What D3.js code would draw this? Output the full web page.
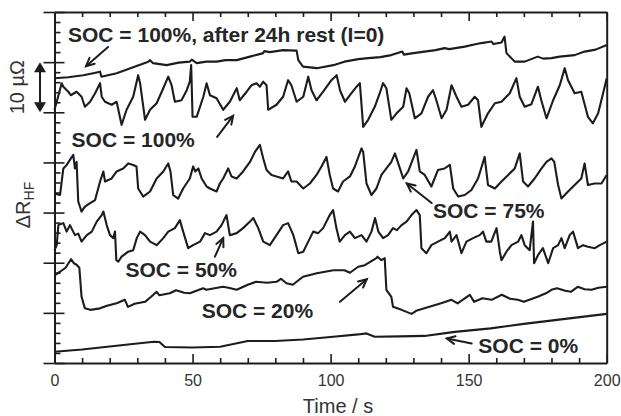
<!DOCTYPE html>
<html><head><meta charset="utf-8">
<script src="https://cdn.jsdelivr.net/npm/d3@7"></script>
<style>
html,body{margin:0;padding:0;background:#fff;}
svg{display:block;font-family:"Liberation Sans",Arial,Helvetica,sans-serif;}
</style></head>
<body>
<svg id="chart" width="621" height="416"></svg>
<script>
// ---- data (time in s, ΔR_HF offset in µΩ) ----
const xTicksMajor = [0, 50, 100, 150, 200];
const xTickLabels = ["0", "50", "100", "150", "200"];
const yTicksMajor = [0, 10, 20, 30, 40, 50, 60, 70];

const soc100rest = [[0,56.8],[5,57.0],[10.4,57.4],[14,57.8],[16.5,58.1],[17,57.1],[22.5,57.8],[28,58.9],[34,60.1],[34.6,60.4],[35.7,59.8],[40.6,59.4],[45,59.9],[49,60.1],[49.7,60.5],[51.5,59.8],[55,60.1],[58.7,60.1],[62,60.4],[66,60.4],[70.8,61.1],[75.6,61.8],[76,62.2],[78,62.0],[82.8,62.4],[87.7,62.3],[88.3,60.4],[90,59.1],[95,58.8],[101,59.4],[105,60.1],[110,60.6],[113.6,60.8],[118,61.0],[122,61.4],[126,62.1],[126.5,61.5],[130,61.8],[134,62.1],[138,62.4],[141.3,62.8],[143,62.6],[148.6,63.1],[152,63.5],[154.6,63.8],[158.3,64.1],[159,63.6],[161.9,63.9],[163,65.1],[163.7,61.8],[166.7,60.1],[170.3,60.1],[175,61.1],[177,60.7],[180,60.8],[183,61.1],[188.4,61.4],[192,62.1],[196,62.5],[200,63.4]];

const soc100 = [[0,50.5],[1,52.5],[2.6,55.8],[3.2,55.1],[5,54.1],[5.9,53.4],[8,54.1],[9.8,53.1],[11,51.1],[12.9,52.1],[14.7,53.8],[16.5,55.8],[17.1,53.1],[18.3,52.1],[20.7,51.5],[22.5,52.1],[24.3,47.5],[26.1,50.5],[28.5,53.1],[30.3,57.4],[31,55.8],[32.8,48.5],[34.6,50.5],[37,51.8],[39.4,54.8],[41.2,57.1],[42.4,55.4],[43.6,52.1],[46,52.4],[47.9,54.4],[49,56.1],[49.5,59.4],[50,49.1],[51.5,49.1],[53.9,53.1],[55.1,55.8],[56.3,53.4],[58.7,52.8],[61.1,50.5],[63.5,52.1],[66,54.8],[67.1,52.4],[69.6,54.1],[71.4,55.4],[73.2,55.8],[74.4,55.1],[75.6,56.1],[76.8,55.4],[77.4,50.5],[80.4,51.5],[82.8,53.1],[84.6,56.4],[85.8,55.4],[87.7,52.1],[90.1,53.1],[91.9,57.1],[93.1,54.4],[94.9,52.4],[97.3,54.1],[100.3,56.4],[102.2,57.4],[103.4,54.4],[105.2,52.1],[107,53.4],[109.4,55.1],[110.6,55.8],[111.8,47.1],[113.6,48.5],[116,51.1],[117.8,53.8],[119,55.8],[120.2,54.8],[122,48.5],[123.9,49.8],[126.3,51.1],[127.5,54.8],[128.5,53.8],[130.5,48.8],[132.9,49.8],[135.3,53.1],[137.1,54.4],[138.3,52.4],[140.2,48.8],[142,50.5],[143.8,55.4],[145.6,53.1],[147.4,51.1],[149.8,51.5],[152.2,53.1],[153.4,52.4],[154.6,47.1],[157,49.8],[159.5,51.8],[161.9,52.1],[164.9,53.8],[167.3,56.8],[168.5,53.1],[170.3,51.1],[172.7,51.6],[175.1,55.1],[176.3,52.4],[178.2,48.8],[180.6,52.4],[183,55.4],[184.8,58.8],[186,56.4],[188.4,53.8],[190.8,54.1],[193.2,49.1],[195,47.8],[196.9,49.8],[198.7,53.8],[200,56.8]];

const soc75 = [[0,33.8],[2,33.5],[3.2,38.8],[4.4,39.5],[5.6,40.5],[6.8,41.5],[7.4,38.8],[8,40.1],[8.6,32.2],[9.8,30.2],[11,31.2],[12.9,31.9],[14.7,32.5],[16.5,36.2],[17.7,38.2],[18.3,36.2],[20.7,36.8],[22.5,38.2],[24.9,38.8],[26.7,39.8],[28.5,39.5],[29.7,39.2],[30.3,34.8],[32.1,33.2],[34.6,34.2],[37,36.8],[39.4,38.2],[41.2,39.8],[42,38.2],[43,33.5],[44.8,32.8],[46.6,34.8],[49,36.8],[50.2,39.2],[51,38.2],[52.1,38.8],[53.3,36.8],[55.1,35.2],[56.3,34.8],[58.7,34.2],[59.9,35.8],[61.1,36.8],[62.9,38.8],[64.1,37.2],[66,36.8],[68.3,38.2],[70.8,40.1],[72.6,42.1],[74.4,43.5],[75.6,40.8],[76.8,38.5],[78.6,37.5],[80.4,37.2],[82.8,36.8],[84.6,38.2],[85.8,36.2],[87.7,36.2],[90.1,34.8],[92.5,35.8],[94.9,37.5],[96.7,39.2],[98.5,41.1],[99.7,37.5],[100.9,34.8],[102.7,34.2],[104.5,36.2],[107,37.2],[108.8,39.2],[111.2,42.8],[111.8,42.1],[113,35.8],[114.8,33.5],[116.6,34.8],[118.4,37.5],[120.2,38.8],[122,40.1],[123.3,41.8],[123.9,40.8],[125.1,38.8],[126.3,36.8],[128.1,38.2],[129.9,40.8],[131.1,42.5],[132.3,38.2],[134.1,37.5],[136.5,35.2],[138.9,38.5],[141.3,38.8],[143.2,39.5],[144.4,34.8],[146.2,33.2],[148.6,33.5],[151,34.5],[153.4,36.8],[155.8,41.1],[157,35.5],[159.5,34.8],[161.9,36.2],[164.3,37.5],[166.7,38.8],[168.5,41.8],[169.7,36.2],[171.5,35.2],[173.9,36.8],[176.4,38.8],[178.2,40.1],[180,40.8],[181,40.1],[182.4,35.5],[183.6,32.8],[186,34.2],[188.4,35.5],[190.8,36.8],[192,39.8],[193.2,35.5],[195.6,35.8],[198.1,35.8],[200,37.5]];

const soc50 = [[0,22.5],[0.8,23.5],[1.4,27.5],[3.2,27.9],[4.4,26.2],[5.6,27.5],[7.4,25.5],[8.6,25.8],[9.8,24.2],[11.7,25.5],[13.5,26.2],[15.3,28.2],[17.1,29.5],[17.7,30.2],[18.9,27.5],[20.1,25.5],[21.3,24.9],[21.9,26.2],[22.4,20.5],[23.1,20.2],[24.3,21.2],[26.7,22.2],[28.5,22.5],[29.8,24.9],[31,26.2],[32.8,25.5],[34.6,24.2],[37,23.5],[39.4,24.9],[41.2,26.2],[43.6,26.9],[45.4,28.5],[46.6,26.2],[48.4,22.9],[50.2,23.5],[52.7,24.2],[54.5,25.9],[56.3,25.5],[58.7,26.2],[60.5,27.5],[62.3,29.5],[63.5,25.5],[66,25.9],[68.3,26.9],[70.8,28.2],[72,28.9],[73.8,26.9],[75.6,24.2],[78,23.5],[80.4,25.5],[82.8,27.5],[84.6,27.9],[86.5,25.5],[88.3,21.9],[90.1,22.2],[91.9,24.2],[93.7,26.2],[95.5,25.9],[97.3,26.9],[99.7,29.5],[100.9,30.5],[102.1,26.9],[103.3,24.2],[105.2,25.5],[107,26.2],[108.8,24.9],[111.2,25.5],[113,24.2],[114.8,26.2],[116.1,28.9],[117.3,26.2],[119,24.9],[120.8,25.5],[122.6,26.9],[124,26.5],[125.7,27.5],[127.5,28.2],[129.3,29.5],[131.1,30.5],[132.3,29.5],[132.9,22.9],[134.7,21.9],[136.5,23.5],[138.9,24.2],[141.4,24.9],[143.2,26.2],[143.8,24.2],[145.6,25.5],[147.4,21.9],[149.2,24.2],[151.6,24.9],[154,25.5],[155.2,26.2],[156.4,24.2],[158.2,24.2],[160.1,26.9],[161.3,22.2],[161.9,20.5],[163.7,22.2],[165.5,23.5],[167.9,24.2],[169.1,25.5],[170.3,23.5],[172.1,22.5],[173.3,28.2],[173.7,19.9],[175.1,21.5],[176.9,22.9],[178.8,19.9],[180.6,22.9],[182.4,23.5],[183.6,24.9],[184.8,22.9],[186.6,25.5],[187.8,26.2],[189.6,22.9],[191.4,23.5],[193.2,23.2],[195.7,22.9],[197.5,23.5],[200,24.2]];

const soc20 = [[0,17.5],[2,18.2],[4,19.0],[6,20.7],[7,19.9],[8,19.6],[9,19.0],[9.8,13.2],[11,10.9],[13,10.6],[16.5,10.9],[19,11.4],[22.5,11.9],[25.5,12.6],[26.6,11.2],[29,11.8],[32.8,12.2],[35,13.2],[37,14.2],[38,13.5],[41.8,13.9],[44,14.5],[47,14.0],[49,13.9],[53.8,14.9],[55,14.6],[61,15.2],[63,15.0],[66,14.6],[70,15.6],[73,16.2],[77,16.0],[80.4,16.2],[82,16.8],[84,15.9],[86.3,15.6],[90,17.2],[95,17.9],[98,18.2],[101,18.5],[105,18.5],[107,18.0],[110,19.2],[112.4,19.5],[116.6,20.9],[117,21.2],[118.4,20.5],[119.6,20.9],[120.2,14.6],[122,13.2],[122.6,11.2],[125.7,10.6],[129.3,9.8],[131,10.4],[134,10.9],[140,11.9],[143.8,12.6],[146,11.9],[150.4,13.6],[152,12.2],[155,12.9],[158.3,12.6],[162,13.6],[165,12.8],[167.8,12.6],[170,12.2],[175,13.2],[178,13.9],[180,14.6],[182,14.9],[185,14.4],[187,14.2],[189.5,15.2],[192,14.7],[194.5,14.6],[197,15.0],[200,15.2]];

const soc0 = [[0,2.25],[10,2.7],[20,3.3],[30,3.9],[36,4.25],[38,4.2],[40,3.2],[50,3.1],[60,3.25],[70,4.4],[80,4.4],[90,4.7],[100,5.2],[110,5.7],[113,5.9],[116,5.25],[125,5.3],[134,5.4],[145,6.2],[158,6.9],[170,7.8],[182,8.6],[200,9.8]];

const seriesList = [soc100rest, soc100, soc75, soc50, soc20, soc0];

// annotation labels: [text, t, v]  and arrows [t0,v0,t1,v1] (head at t1,v1)
const labels = [
  ["SOC = 100%, after 24h rest (I=0)", 4.9, 64.0],
  ["SOC = 100%", 6.2, 43.1],
  ["SOC = 75%", 137.1, 28.9],
  ["SOC = 50%", 25.7, 17.2],
  ["SOC = 20%", 53.3, 8.97],
  ["SOC = 0%", 153.5, 1.94]
];
const arrows = [
  [19.4, 63.0, 11.4, 59.2],
  [58.9, 45.1, 64.7, 49.3],
  [136.6, 31.9, 127.6, 35.8],
  [58.1, 21.2, 61.1, 24.9],
  [103.4, 12.2, 113.1, 16.7],
  [151.1, 3.9, 142.1, 4.9]
];

// ---- layout ----
const svg = d3.select("#chart");
const L = 54.5, R = 606.7, T = 12, B = 363;
const x = d3.scaleLinear().domain([0, 200]).range([L, R]);
const y = d3.scaleLinear().domain([0, 70]).range([B, T]);
const ink = "#1c1c1c";

const minorX = d3.range(0, 201, 10).filter(v => v % 50 !== 0);
const minorY = d3.range(0, 71, 2).filter(v => v % 10 !== 0);

function styleAxis(g) {
  g.selectAll("path.domain").attr("stroke", ink).attr("stroke-width", 2);
  g.selectAll(".tick line").attr("stroke", ink).attr("stroke-width", 1.6);
}

// bottom axis
const gb = svg.append("g").attr("transform", `translate(0,${B})`)
  .call(d3.axisBottom(x).tickValues(xTicksMajor).tickFormat((d, i) => xTickLabels[i]).tickSizeInner(-9).tickSizeOuter(0).tickPadding(12));
styleAxis(gb);
gb.selectAll("text").attr("font-size", 16).attr("fill", "#333").attr("font-family", "Liberation Sans, Arial, sans-serif");
svg.append("g").attr("transform", `translate(0,${B})`)
  .call(d3.axisBottom(x).tickValues(minorX).tickFormat("").tickSizeInner(-5).tickSizeOuter(0))
  .call(styleAxis).select("path.domain").remove();

// top axis
svg.append("g").attr("transform", `translate(0,${T})`)
  .call(d3.axisTop(x).tickValues(xTicksMajor).tickFormat("").tickSizeInner(-9).tickSizeOuter(0))
  .call(styleAxis);
svg.append("g").attr("transform", `translate(0,${T})`)
  .call(d3.axisTop(x).tickValues(minorX).tickFormat("").tickSizeInner(-5).tickSizeOuter(0))
  .call(styleAxis).select("path.domain").remove();

// left axis: major crossing ticks, minor inward
svg.append("g").attr("transform", `translate(${L},0)`)
  .call(d3.axisLeft(y).tickValues(yTicksMajor).tickFormat("").tickSizeInner(11).tickSizeOuter(0))
  .call(styleAxis);
svg.append("g").attr("transform", `translate(${L},0)`)
  .call(d3.axisLeft(y).tickValues(yTicksMajor).tickFormat("").tickSizeInner(-10).tickSizeOuter(0))
  .call(styleAxis).select("path.domain").remove();
svg.append("g").attr("transform", `translate(${L},0)`)
  .call(d3.axisLeft(y).tickValues(minorY).tickFormat("").tickSizeInner(-6).tickSizeOuter(0))
  .call(styleAxis).select("path.domain").remove();

// right axis (plain)
svg.append("g").attr("transform", `translate(${R},0)`)
  .call(d3.axisRight(y).tickValues([]).tickSizeOuter(0))
  .call(styleAxis);

// traces
const line = d3.line().x(d => x(d[0])).y(d => y(d[1]));
svg.append("g").selectAll("path.trace").data(seriesList).join("path")
  .attr("class", "trace")
  .attr("d", line)
  .attr("fill", "none")
  .attr("stroke", ink)
  .attr("stroke-width", 2.1)
  .attr("stroke-linejoin", "round");

// annotation labels
svg.append("g").selectAll("text").data(labels).join("text")
  .attr("x", d => x(d[1])).attr("y", d => y(d[2]))
  .attr("font-size", 21).attr("font-weight", "bold").attr("fill", "#262626")
  .text(d => d[0]);

// annotation arrows (open heads)
const ag = svg.append("g").attr("stroke", ink).attr("stroke-width", 2).attr("fill", "none").attr("stroke-linecap", "round");
arrows.forEach(a => {
  const x0 = x(a[0]), y0 = y(a[1]), x1 = x(a[2]), y1 = y(a[3]);
  const ang = Math.atan2(y1 - y0, x1 - x0);
  const hl = 9, ha = 0.45;
  ag.append("path").attr("d", `M${x0},${y0}L${x1},${y1}`);
  ag.append("path").attr("d",
    `M${x1 - hl * Math.cos(ang - ha)},${y1 - hl * Math.sin(ang - ha)}L${x1},${y1}L${x1 - hl * Math.cos(ang + ha)},${y1 - hl * Math.sin(ang + ha)}`);
});

// scale bar: 10 µΩ double arrow between y=50 and y=60
const sbx = 40;
const ya = y(60), yb = y(50);
svg.append("line").attr("x1", sbx).attr("x2", sbx).attr("y1", ya + 6).attr("y2", yb - 6)
  .attr("stroke", ink).attr("stroke-width", 2);
svg.append("path").attr("d", `M${sbx},${ya}L${sbx - 6},${ya + 10}L${sbx + 6},${ya + 10}Z`).attr("fill", ink);
svg.append("path").attr("d", `M${sbx},${yb}L${sbx - 6},${yb - 10}L${sbx + 6},${yb - 10}Z`).attr("fill", ink);

// y labels
svg.append("text").attr("transform", `translate(24,${(ya + yb) / 2}) rotate(-90)`)
  .attr("text-anchor", "middle").attr("font-size", 20).attr("fill", "#333").text("10 µΩ");
const yl = svg.append("text").attr("transform", `translate(30,205) rotate(-90)`)
  .attr("text-anchor", "middle").attr("font-size", 20).attr("fill", "#333");
yl.append("tspan").text("ΔR");
yl.append("tspan").attr("font-size", 14).attr("dy", 4).text("HF");

// x label
svg.append("text").attr("x", 338).attr("y", 413).attr("text-anchor", "middle")
  .attr("font-size", 20).attr("fill", "#333").text("Time / s");
</script>
</body></html>
